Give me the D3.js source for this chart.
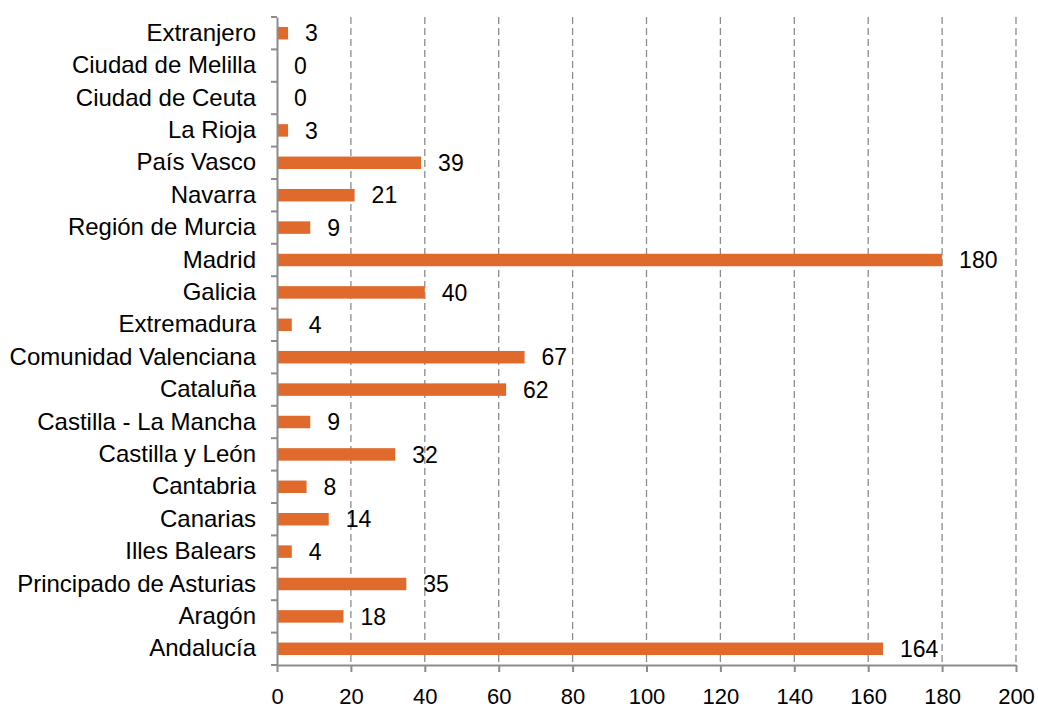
<!DOCTYPE html>
<html><head><meta charset="utf-8">
<script src="https://cdn.jsdelivr.net/npm/d3@7"></script>
<style>body{margin:0;background:#fff;} text{font-family:"Liberation Sans",Arial,sans-serif;}</style>
</head><body><svg id="c" width="1038" height="708"></svg>
<script>
const categories = ["Andalucía","Aragón","Principado de Asturias","Illes Balears","Canarias","Cantabria","Castilla y León","Castilla - La Mancha","Cataluña","Comunidad Valenciana","Extremadura","Galicia","Madrid","Región de Murcia","Navarra","País Vasco","La Rioja","Ciudad de Ceuta","Ciudad de Melilla","Extranjero"];
const values = [164,18,35,4,14,8,32,9,62,67,4,40,180,9,21,39,3,0,0,3];
const xTicks = [0,20,40,60,80,100,120,140,160,180,200];

const svg = d3.select("#c");
const mLeft = 277, mRight = 1016, mTop = 17, mBottom = 665;
const x = d3.scaleLinear().domain([0,200]).range([mLeft,mRight]);
const y = d3.scaleBand().domain(categories.slice().reverse()).range([mTop,mBottom]).paddingInner(0.615).paddingOuter(0.3075);
const yOuter = d3.scaleBand().domain(categories.slice().reverse()).range([mTop,mBottom]);

// gridlines
svg.append("g").selectAll("line").data(xTicks.filter(d=>d>0)).join("line")
  .attr("x1",d=>x(d)).attr("x2",d=>x(d)).attr("y1",mTop).attr("y2",mBottom)
  .attr("stroke","#8c8c8c").attr("stroke-width",1.3).attr("stroke-dasharray","7,4");

// bars
const data = categories.map((c,i)=>({c, v: values[i]}));
svg.append("g").selectAll("rect").data(data).join("rect")
  .attr("x",x(0)).attr("y",d=>y(d.c)).attr("width",d=>x(d.v)-x(0)).attr("height",y.bandwidth())
  .attr("fill","#E06A2C");

// value labels
svg.append("g").selectAll("text").data(data).join("text")
  .attr("x",d=>x(d.v)+17).attr("y",d=>y(d.c)+y.bandwidth()/2).attr("dy","0.36em")
  .attr("font-size",23).attr("fill","#000").text(d=>d.v);

// x axis
const xAxis = svg.append("g").attr("transform",`translate(0,${mBottom})`)
  .call(d3.axisBottom(x).tickValues(xTicks).tickSize(7).tickPadding(16).tickSizeOuter(0));
xAxis.select(".domain").attr("stroke","#8c8c8c").attr("stroke-width",2);
xAxis.selectAll(".tick line").attr("stroke","#8c8c8c").attr("stroke-width",2);
xAxis.selectAll("text").attr("font-size",22).attr("fill","#000").attr("font-family","Liberation Sans, Arial, sans-serif");

// y axis
const yAxis = svg.append("g").attr("transform",`translate(${mLeft},0)`)
  .call(d3.axisLeft(yOuter).tickSize(0).tickPadding(21));
yAxis.select(".domain").attr("stroke","#8c8c8c").attr("stroke-width",2);
yAxis.selectAll("text").attr("font-size",24).attr("fill","#000").attr("font-family","Liberation Sans, Arial, sans-serif");
// y boundary ticks
const bounds = d3.range(categories.length+1).map(i=>mTop+i*yOuter.step());
svg.append("g").selectAll("line").data(bounds).join("line")
  .attr("x1",mLeft-6).attr("x2",mLeft).attr("y1",d=>d).attr("y2",d=>d)
  .attr("stroke","#8c8c8c").attr("stroke-width",2);
</script></body></html>
